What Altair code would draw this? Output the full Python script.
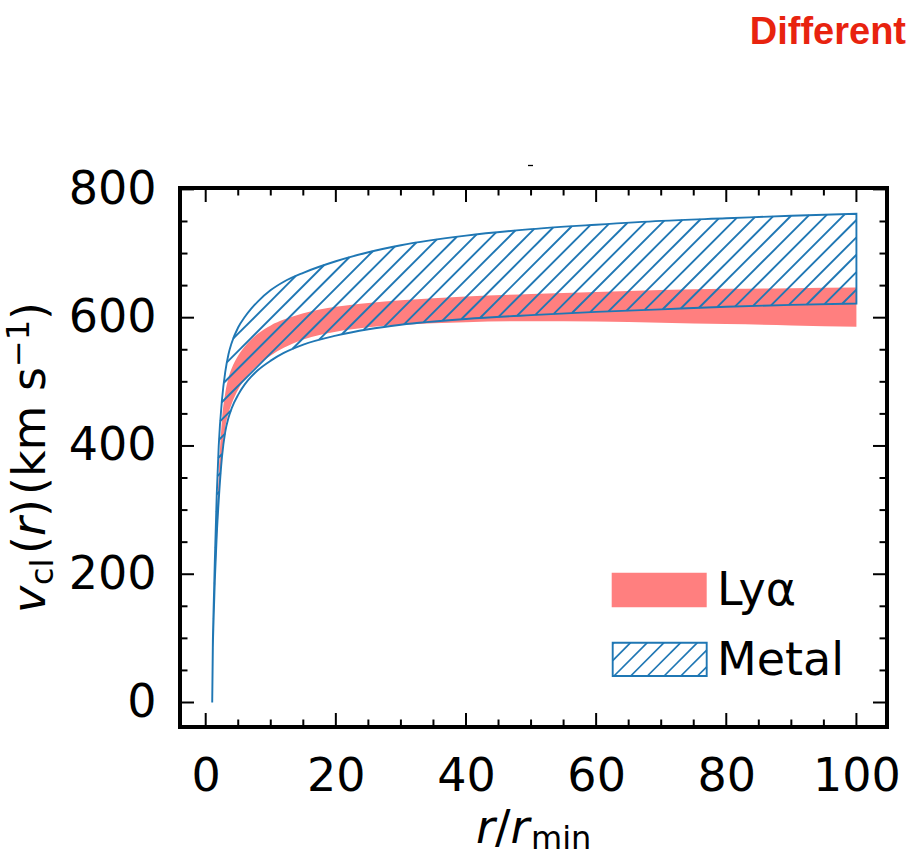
import altair as alt
import numpy as np
import pandas as pd

# ---------------- data ----------------
r_over_rmin = [1, 1.1, 1.2, 1.4, 1.7, 2, 2.5, 3, 3.5, 4, 5, 6, 7, 8, 10, 12, 15, 20, 25, 30, 40, 50, 60, 70, 80, 90, 100]
lya_low = [0, 70, 110, 170, 245, 305, 385, 428, 451, 466, 488, 504, 516, 526, 541, 553, 566, 578, 585, 589, 593, 594.5, 594, 592, 590, 588, 586]
lya_high = [0, 80, 120, 190, 280, 355, 440, 482, 506, 521, 541, 555, 566, 575, 588, 597, 607, 617, 623, 627, 633, 637, 640, 643, 645, 646, 647]
metal_low = [0, 85, 125, 190, 262, 315, 383, 422, 444, 459, 480, 496, 508, 518, 533, 545, 558, 572, 582, 589, 598, 604, 609, 613, 617, 620, 622]
metal_high = [0, 95, 140, 220, 325, 400, 472, 515, 543, 561, 585, 601, 614, 625, 643, 656, 670, 688, 702, 713, 728, 738, 745, 751, 755, 759, 762]

x_major = [0, 20, 40, 60, 80, 100]
x_minor = [5, 10, 15, 25, 30, 35, 45, 50, 55, 65, 70, 75, 85, 90, 95]
y_major = [0, 200, 400, 600, 800]
y_minor = [50, 100, 150, 250, 300, 350, 450, 500, 550, 650, 700, 750]
legend_labels = ["Lyα", "Metal"]

# ---------------- layout ----------------
W, H = 707, 539
XD = (-3.95, 104.7)
YD = (-38.2, 802.2)
FONT = "DejaVu Sans"
RED = "#FF7F7F"
BLUE = "#1f77b4"
LW = 1.9

xscale = alt.Scale(domain=list(XD), nice=False, zero=False)
yscale = alt.Scale(domain=list(YD), nice=False, zero=False)
xaxis = alt.Axis(values=x_major, title=None, grid=False, ticks=False, tickSize=0, domain=False,
                 labelFont=FONT, labelFontSize=46, labelColor="black", labelPadding=27,
                 labelFlush=False, format="d")
yaxis = alt.Axis(values=y_major, title=None, grid=False, ticks=False, tickSize=0, domain=False,
                 labelFont=FONT, labelFontSize=46, labelColor="black", labelPadding=24, format="d")

bands = pd.DataFrame({
    "r": r_over_rmin, "lya_low": lya_low, "lya_high": lya_high,
    "metal_low": metal_low, "metal_high": metal_high,
})

red_band = alt.Chart(bands).mark_area(color=RED, opacity=1, strokeWidth=0, interpolate="monotone").encode(
    x=alt.X("r:Q", scale=xscale, axis=xaxis),
    y=alt.Y("lya_low:Q", scale=yscale, axis=yaxis),
    y2="lya_high:Q",
)

metal_outline = alt.Chart(bands).mark_area(
    fill="white", fillOpacity=0, stroke=BLUE, strokeWidth=LW, interpolate="monotone"
).encode(
    x=alt.X("r:Q", scale=xscale, axis=xaxis),
    y=alt.Y("metal_low:Q", scale=yscale, axis=yaxis),
    y2="metal_high:Q",
)


# ---------------- same monotone curve as the renderer (d3 monotoneX) ----------------
def monotone_eval(xp, yp, xe):
    xp = np.asarray(xp, float)
    yp = np.asarray(yp, float)
    n = len(xp)
    t = np.zeros(n)

    def sgn(v):
        return -1.0 if v < 0 else 1.0

    for i in range(1, n - 1):
        h0 = xp[i] - xp[i - 1]
        h1 = xp[i + 1] - xp[i]
        s0 = (yp[i] - yp[i - 1]) / h0
        s1 = (yp[i + 1] - yp[i]) / h1
        p = (s0 * h1 + s1 * h0) / (h0 + h1)
        val = (sgn(s0) + sgn(s1)) * min(abs(s0), abs(s1), 0.5 * abs(p))
        t[i] = val if np.isfinite(val) else 0.0
    h = xp[1] - xp[0]
    t[0] = (3 * (yp[1] - yp[0]) / h - t[1]) / 2
    h = xp[-1] - xp[-2]
    t[-1] = (3 * (yp[-1] - yp[-2]) / h - t[-2]) / 2

    xe = np.asarray(xe, float)
    i = np.clip(np.searchsorted(xp, xe, side="right") - 1, 0, n - 2)
    h = xp[i + 1] - xp[i]
    s = (xe - xp[i]) / h
    h00 = 2 * s**3 - 3 * s**2 + 1
    h10 = s**3 - 2 * s**2 + s
    h01 = -2 * s**3 + 3 * s**2
    h11 = s**3 - s**2
    return h00 * yp[i] + h10 * h * t[i] + h01 * yp[i + 1] + h11 * h * t[i + 1]


# ---------------- hatching of the metal band (45 deg in pixel space) ----------------
def xs(x):
    return (np.asarray(x, dtype=float) - XD[0]) / (XD[1] - XD[0]) * W

def ys(v):
    return (YD[1] - np.asarray(v, dtype=float)) / (YD[1] - YD[0]) * H

def xinv(p):
    return XD[0] + p / W * (XD[1] - XD[0])

def yinv(p):
    return YD[1] - p / H * (YD[1] - YD[0])

px = np.arange(float(xs(1)), float(xs(100)) + 1e-9, 0.05)
xd = np.clip(xinv(px), 1, 100)
up_px = ys(monotone_eval(r_over_rmin, metal_high, xd))
lo_px = ys(monotone_eval(r_over_rmin, metal_low, xd))
segs = []
for k in range(-90, 90):
    c = 691 + k * 17.4
    py = c - px
    inside = (py >= up_px - 1e-9) & (py <= lo_px + 1e-9)
    idx = np.flatnonzero(inside)
    if idx.size == 0:
        continue
    runs = np.split(idx, np.where(np.diff(idx) > 1)[0] + 1)
    for run in runs:
        a, b = run[0], run[-1]
        if b - a < 2:
            continue
        segs.append({"hx": float(xinv(px[a])), "hy": float(yinv(py[a])),
                     "hx2": float(xinv(px[b])), "hy2": float(yinv(py[b]))})
hatch_df = pd.DataFrame(segs)

hatch = alt.Chart(hatch_df).mark_rule(color=BLUE, strokeWidth=LW).encode(
    x=alt.X("hx:Q", scale=xscale, axis=xaxis),
    y=alt.Y("hy:Q", scale=yscale, axis=yaxis),
    x2="hx2:Q",
    y2="hy2:Q",
)

# ---------------- inward ticks on all four sides ----------------
def xticks(vals, length, top):
    df = pd.DataFrame({"t": vals})
    if top:
        yv, y2v = 0, length
    else:
        yv, y2v = H, H - length
    return alt.Chart(df).mark_rule(color="black", strokeWidth=2).encode(
        x=alt.X("t:Q", scale=xscale, axis=xaxis), y=alt.value(yv), y2=alt.value(y2v))

def yticks(vals, length, right):
    df = pd.DataFrame({"t": vals})
    if right:
        xv, x2v = W, W - length
    else:
        xv, x2v = 0, length
    return alt.Chart(df).mark_rule(color="black", strokeWidth=2).encode(
        y=alt.Y("t:Q", scale=yscale, axis=yaxis), x=alt.value(xv), x2=alt.value(x2v))

tick_layers = [
    xticks(x_major, 14, False), xticks(x_minor, 7.5, False),
    xticks(x_major, 14, True), xticks(x_minor, 7.5, True),
    yticks(y_major, 14, False), yticks(y_minor, 7.5, False),
    yticks(y_major, 14, True), yticks(y_minor, 7.5, True),
]

# ---------------- text helpers ----------------
one = pd.DataFrame({"k": [0]})

def txt(text, x, y, size=46, style="normal", angle=0, align="left", weight="normal",
        color="black", font=FONT):
    return alt.Chart(one).mark_text(
        fontSize=size, fontStyle=style, angle=angle, align=align, baseline="alphabetic",
        font=font, fontWeight=weight, color=color
    ).encode(x=alt.value(x), y=alt.value(y), text=alt.value(text))

# x-axis title: r / r_min
xtitle = [
    txt("r", 296, 655, style="italic"),
    txt("/", 315, 655),
    txt("r", 330.5, 655, style="italic"),
    txt("min", 351, 661, size=32),
]

# y-axis title: v_cl (r) (km s^-1), rotated
BX = -135
ytitle = [
    txt("v", BX, 425, style="italic", angle=270),
    txt("cl", BX + 8, 397, size=32, angle=270),
    txt("(", BX, 366, angle=270),
    txt("r", BX, 348, style="italic", angle=270),
    txt(")", BX, 329, angle=270),
    txt("(km s", BX, 307, angle=270),
    txt("\u22121", BX - 16, 179, size=32, angle=270),
    txt(")", BX, 132, angle=270),
]

# ---------------- legend ----------------
leg_red = alt.Chart(one).mark_rect(color=RED).encode(
    x=alt.value(431.7), x2=alt.value(526.7), y=alt.value(384.7), y2=alt.value(419.3))
leg_box = alt.Chart(one).mark_rect(fill="white", fillOpacity=0, stroke=BLUE, strokeWidth=LW).encode(
    x=alt.value(432.7), x2=alt.value(526.7), y=alt.value(454.7), y2=alt.value(488))
lx0, lx1, ly0, ly1 = 432.7, 526.7, 454.7, 488.0
leg_hatch = []
for k in range(-6, 10):
    c = 922 + k * 16.7
    a = max(lx0, c - ly1)
    b = min(lx1, c - ly0)
    if b - a < 1:
        continue
    leg_hatch.append(
        alt.Chart(one).mark_rule(color=BLUE, strokeWidth=1.7).encode(
            x=alt.value(a), y=alt.value(c - a), x2=alt.value(b), y2=alt.value(c - b)))
leg_text = [
    txt(legend_labels[0], 537, 417),
    txt(legend_labels[1], 537, 487),
]

# ---------------- other annotations ----------------
different = txt("Different", 726, -144, size=38, weight="bold", align="right",
                color="#E8230F", font="Liberation Sans")
dash = alt.Chart(one).mark_rule(color="black", strokeWidth=1.3).encode(
    x=alt.value(348), x2=alt.value(353), y=alt.value(-22.5), y2=alt.value(-22.5))

chart = alt.layer(
    red_band, hatch, metal_outline, *tick_layers, *xtitle, *ytitle,
    leg_red, leg_box, *leg_hatch, *leg_text, different, dash
).properties(
    width=W, height=H,
    autosize=alt.AutoSizeParams(type="none"),
    padding={"left": 180, "top": 188, "right": 22, "bottom": 130},
    background="white",
).configure_view(stroke="black", strokeWidth=4)

chart.save("out.html", embed_options={"renderer": "svg", "actions": False})
